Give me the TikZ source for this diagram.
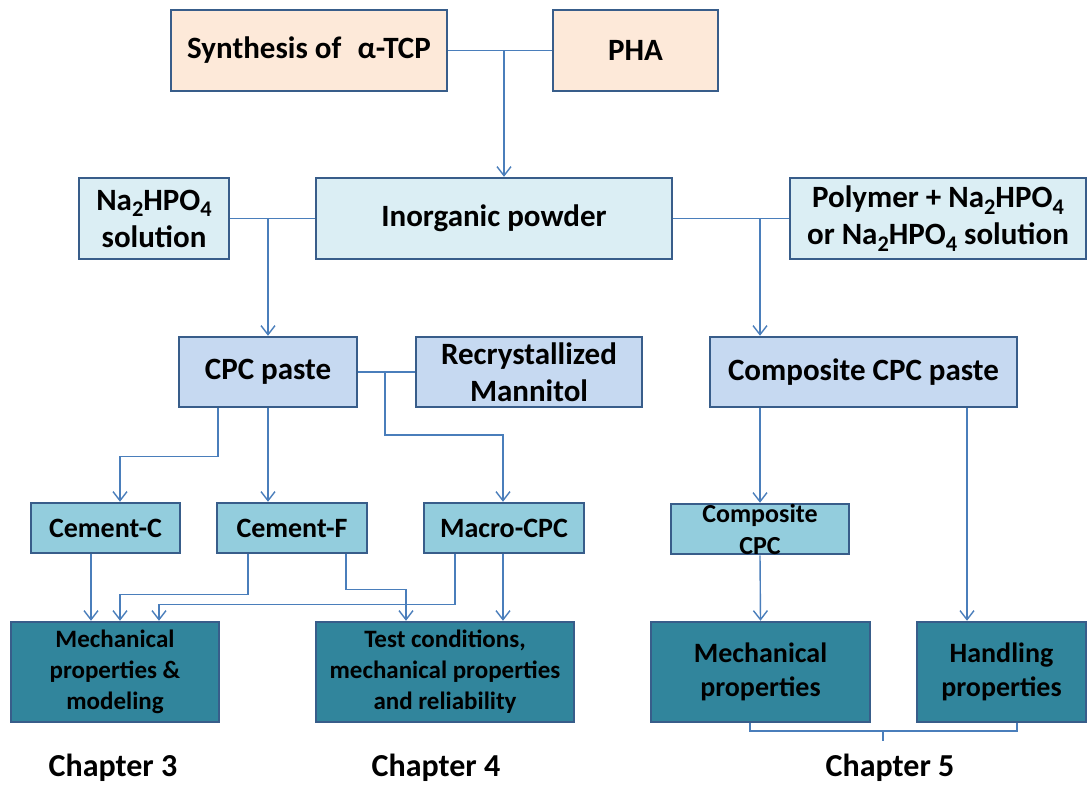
\documentclass[tikz,border=0pt]{standalone}
\usepackage{fontspec}
\setmainfont{Carlito}
\usetikzlibrary{arrows.meta}
\definecolor{bd}{HTML}{385D8A}
\definecolor{ln}{HTML}{4A7EBB}
\definecolor{peach}{HTML}{FDE9D9}
\definecolor{lblue}{HTML}{DBEEF4}
\definecolor{pblue}{HTML}{C6D9F1}
\definecolor{cblue}{HTML}{93CDDD}
\definecolor{dteal}{HTML}{31859C}
\newcommand{\sub}[1]{\raisebox{-0.22em}{\scalebox{0.72}{#1}}}
\begin{document}
\begin{tikzpicture}[x=1pt,y=-1pt,
  box/.style={draw=bd, line width=2.5pt, inner sep=0pt, align=center, text=black},
  fA/.style={font=\bfseries\fontsize{31}{37}\selectfont},
  fB/.style={font=\bfseries\fontsize{28}{33}\selectfont},
  fC/.style={font=\bfseries\fontsize{25}{31}\selectfont},
  conn/.style={draw=ln, line width=1.4pt},
  arr/.style={conn, -{Straight Barb[length=9pt,width=14pt,line width=1.4pt]}},
  chap/.style={font=\bfseries\fontsize{32}{38}\selectfont, text=black}]
\fill[white] (0,0) rectangle (1088,788);
\useasboundingbox (0,0) rectangle (1088,788);
% row 1
\node[box,fA,fill=peach,minimum width=276,minimum height=81] (syn) at (309,50.5) {Synthesis of\hspace{0.3em} α-TCP};
\node[box,fA,fill=peach,minimum width=165,minimum height=81] (pha) at (635.5,50.5) {PHA};
% row 2
\node[box,fA,fill=lblue,minimum width=150,minimum height=81] (na) at (154,218.5) {Na\sub{2}HPO\sub{4}\\solution};
\node[box,fA,fill=lblue,minimum width=356,minimum height=81] (inorg) at (494,218.5) {Inorganic powder};
\node[box,fA,fill=lblue,minimum width=296,minimum height=81] (poly) at (938,218.5) {Polymer + Na\sub{2}HPO\sub{4}\\or Na\sub{2}HPO\sub{4} solution};
% row 3
\node[box,fA,fill=pblue,minimum width=178,minimum height=70] (cpc) at (268,372) {CPC paste};
\node[box,fA,fill=pblue,minimum width=226,minimum height=70] (recr) at (529,372) {Recrystallized\\Mannitol};
\node[box,fA,fill=pblue,minimum width=307,minimum height=70] (comp) at (863.5,372) {Composite CPC paste};
% row 4
\node[box,fB,fill=cblue,minimum width=149,minimum height=50] (cemc) at (105.5,528) {Cement-C};
\node[box,fB,fill=cblue,minimum width=150,minimum height=50] (cemf) at (292,528) {Cement-F};
\node[box,fB,fill=cblue,minimum width=160,minimum height=50] (macro) at (504,528) {Macro-CPC};
\node[box,fill=cblue,minimum width=178,minimum height=50] (compcpc) at (760,529) {};
\node[font=\bfseries\fontsize{26}{32}\selectfont,align=center,inner sep=0pt] (compcpct) at (compcpc.center) {Composite\\CPC};
% row 5
\node[box,fC,fill=dteal,minimum width=208,minimum height=100] (mech) at (115,672) {Mechanical\\properties \&\\modeling};
\node[box,fC,fill=dteal,minimum width=258,minimum height=100] (test) at (445,672) {Test conditions,\\mechanical properties\\and reliability};
\node[box,font=\bfseries\fontsize{28}{34}\selectfont,fill=dteal,minimum width=219,minimum height=100] (mp) at (760.5,672) {Mechanical\\properties};
\node[box,font=\bfseries\fontsize{28}{34}\selectfont,fill=dteal,minimum width=169,minimum height=100] (hand) at (1001.5,672) {Handling\\properties};
% chapters
\node[chap] (ch3) at (113,768) {Chapter 3};
\node[chap] (ch4) at (436,768) {Chapter 4};
\node[chap] (ch5) at (890,768) {Chapter 5};
% x helper coordinates
\coordinate (xa) at (504,0);
\coordinate (xb) at (268,0);
\coordinate (xc) at (760,0);
\coordinate (xd) at (385,0);
\coordinate (xe) at (503,0);
\coordinate (xf) at (218,0);
\coordinate (xg) at (120,0);
\coordinate (xh) at (91,0);
\coordinate (xi) at (248,0);
\coordinate (xj) at (346,0);
\coordinate (xk) at (406,0);
\coordinate (xl) at (455,0);
\coordinate (xm) at (159,0);
\coordinate (xn) at (967,0);
\coordinate (xo) at (750,0);
\coordinate (xp) at (1017,0);
\coordinate (bk) at (883,731);
% connectors
\draw[conn] (syn.east) -- (pha.west);
\draw[arr] (syn.east -| xa) -- (inorg.north -| xa);
\draw[conn] (na.east) -- (inorg.west);
\draw[arr] (na.east -| xb) -- (cpc.north -| xb);
\draw[conn] (inorg.east) -- (poly.west);
\draw[arr] (inorg.east -| xc) -- (comp.north -| xc);
\draw[conn] (cpc.east) -- (recr.west);
\draw[arr] (cpc.east -| xd) -- ++(0,63) -| (macro.north -| xe);
\draw[arr] (cpc.south -| xf) -- ++(0,48) -| (cemc.north -| xg);
\draw[arr] (cpc.south -| xb) -- (cemf.north -| xb);
\draw[arr] (cemc.south -| xh) -- (mech.north -| xh);
\draw[arr] (cemf.south -| xi) -- ++(0,40) -| (mech.north -| xg);
\draw[arr] (cemf.south -| xj) -- ++(0,35) -| (test.north -| xk);
\draw[arr] (macro.south -| xl) -- ++(0,50) -| (mech.north -| xm);
\draw[arr] (macro.south -| xe) -- (test.north -| xe);
\draw[arr] (comp.south -| xc) -- (compcpc.north);
\draw[arr] (compcpc.south) -- (mp.north);
\draw[arr] (comp.south -| xn) -- (hand.north -| xn);
\draw[conn] (mp.south -| xo) -- (bk -| xo) -- (bk -| xp) -- (hand.south -| xp);
\draw[conn] (bk) -- ++(0,10);
\end{tikzpicture}
\end{document}
